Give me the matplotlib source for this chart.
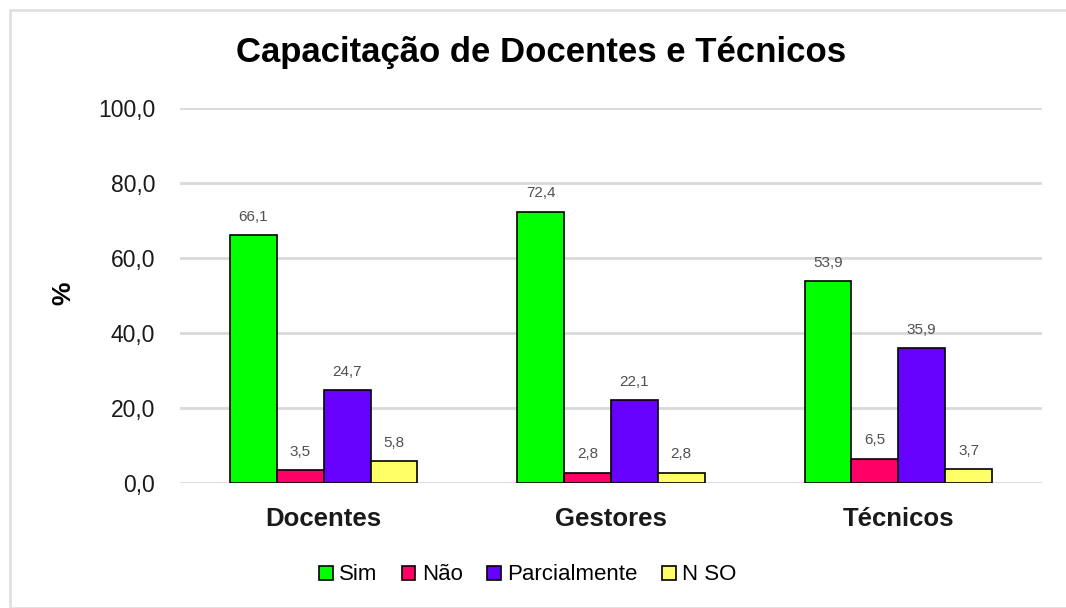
import matplotlib.pyplot as plt
import numpy as np
from matplotlib.patches import Rectangle

categories = ["Docentes", "Gestores", "Técnicos"]
series_names = ["Sim", "Não", "Parcialmente", "N SO"]
sim = [66.1, 72.4, 53.9]
nao = [3.5, 2.8, 6.5]
parcial = [24.7, 22.1, 35.9]
nso = [5.8, 2.8, 3.7]
yticks = [0, 20, 40, 60, 80, 100]
ytick_labels = ["0,0", "20,0", "40,0", "60,0", "80,0", "100,0"]
colors = ["#00FF00", "#FF0066", "#6600FF", "#FFFF66"]

plt.rcParams['font.family'] = ['Liberation Sans', 'DejaVu Sans']

fig = plt.figure(figsize=(10.66, 6.08), dpi=100)
fig.patches.append(Rectangle((10/1066, 0), 1.2, (608-10)/608, transform=fig.transFigure,
                             fill=False, edgecolor="#e0e0e0", linewidth=2, zorder=0))
ax = fig.add_axes([180/1066, (608-483)/608, (1042-180)/1066, (483-108)/608])

series = [sim, nao, parcial, nso]
x = np.arange(len(categories))
w = 0.163
for i, (vals, name, c) in enumerate(zip(series, series_names, colors)):
    pos = x + (i - 1.5) * w
    ax.bar(pos, vals, width=w, color=c, edgecolor="black", linewidth=1.2, label=name, zorder=3)
    for p, v in zip(pos, vals):
        ax.text(p, v + 3.0, f"{v:.1f}".replace(".", ","), ha="center", va="bottom",
                fontsize=11, color="#505050", zorder=4)

ax.set_xlim(-0.5, 2.5)
ax.set_ylim(0, 100)
ax.set_yticks(yticks)
ax.set_yticklabels(ytick_labels, fontsize=16.5, color="#1a1a1a")
ax.set_xticks(x)
ax.set_xticklabels(categories, fontsize=18.5, fontweight="bold", color="#1a1a1a")
ax.tick_params(axis="both", length=0)
ax.tick_params(axis="y", pad=18)
ax.tick_params(axis="x", pad=17)
ax.grid(axis="y", color="#d9d9d9", linewidth=2, zorder=0)
for s in ax.spines.values():
    s.set_visible(False)
ax.set_ylabel("%", fontsize=19, fontweight="bold")
ax.yaxis.set_label_coords((75 - 180) / 862, (483 - 293) / 375)

fig.text(0.508, 0.914, "Capacitação de Docentes e Técnicos", ha="center", va="center",
         fontsize=25, fontweight="bold", color="black")

leg = fig.legend(loc="center", bbox_to_anchor=(528/1066, 1 - 575/608), ncol=4, frameon=False,
                 fontsize=16, handlelength=0.6, handleheight=0.6, handletextpad=0.3,
                 columnspacing=1.1)

fig.savefig("out.png", dpi=100)
